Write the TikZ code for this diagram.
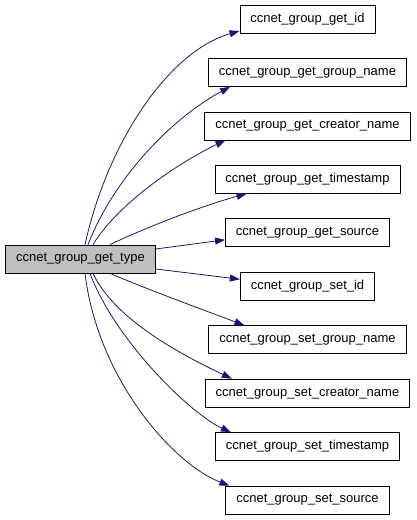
\documentclass[tikz,border=0pt]{standalone}
\usepackage{fontspec}
\usetikzlibrary{arrows.meta,positioning}
\newfontfamily\graphfont{Liberation Sans}
\definecolor{edge}{HTML}{191970}
\definecolor{current}{HTML}{BFBFBF}
\tikzset{x=1pt,y=1pt,node distance=24.65pt,
  func/.style={draw=black,line width=0.8pt,fill=white,minimum height=28pt,
    inner xsep=10.5pt,inner ysep=0pt,font=\graphfont\fontsize{13}{15}\selectfont},
  here/.style={func,fill=current},
  call/.style={draw=edge,line width=0.8pt,-{Triangle[length=10pt,width=7pt]}}}
\begin{document}
\begin{tikzpicture}
  \useasboundingbox (0,0) rectangle (416,-520);
  \node[here] (main) at (80.5,-259) {ccnet\_group\_get\_type};
  \node[func] (getid) at (307.5,-19) {ccnet\_group\_get\_id};
  \node[func,below=of getid] (getgroupname) {ccnet\_group\_get\_group\_name};
  \node[func,below=of getgroupname] (getcreatorname) {ccnet\_group\_get\_creator\_name};
  \node[func,below=of getcreatorname] (gettimestamp) {ccnet\_group\_get\_timestamp};
  \node[func,below=of gettimestamp] (getsource) {ccnet\_group\_get\_source};
  \node[func,below=of getsource] (setid) {ccnet\_group\_set\_id};
  \node[func,below=of setid] (setgroupname) {ccnet\_group\_set\_group\_name};
  \node[func,below=of setgroupname] (setcreatorname) {ccnet\_group\_set\_creator\_name};
  \node[func,below=of setcreatorname] (settimestamp) {ccnet\_group\_set\_timestamp};
  \node[func,below=of settimestamp] (setsource) {ccnet\_group\_set\_source};
  % calls going up
  \draw[call] ([xshift=4.5pt]main.north) .. controls +(23,104) and +(-70,-20) .. ([yshift=-12pt]getid.west);
  \draw[call] ([xshift=7.5pt]main.north) .. controls +(27,69) and +(-56,-30) .. ([xshift=22pt]getgroupname.south west);
  \draw[call] ([xshift=12.5pt]main.north) .. controls +(27,44) and +(-42,-20) .. ([xshift=21pt]getcreatorname.south west);
  \draw[call] ([xshift=29.5pt]main.north) .. controls +(40,19) and +(-41,-11) .. ([xshift=32pt]gettimestamp.south west);
  % calls to the side
  \draw[call] ([yshift=10pt]main.east) -- ([yshift=-7pt]getsource.west);
  \draw[call] ([yshift=-10pt]main.east) -- ([yshift=7pt]setid.west);
  % calls going down
  \draw[call] ([xshift=29.5pt]main.south) .. controls +(40,-17) and +(-40,15) .. ([xshift=36pt]setgroupname.north west);
  \draw[call] ([xshift=12.5pt]main.south) .. controls +(22,-47) and +(-48,23) .. ([xshift=27pt]setcreatorname.north west);
  \draw[call] ([xshift=9.5pt]main.south) .. controls +(25,-67) and +(-40,18) .. ([xshift=16pt]settimestamp.north west);
  \draw[call] ([xshift=4.5pt]main.south) .. controls +(13,-107) and +(-55,21) .. ([xshift=4pt]setsource.north west);
\end{tikzpicture}
\end{document}
